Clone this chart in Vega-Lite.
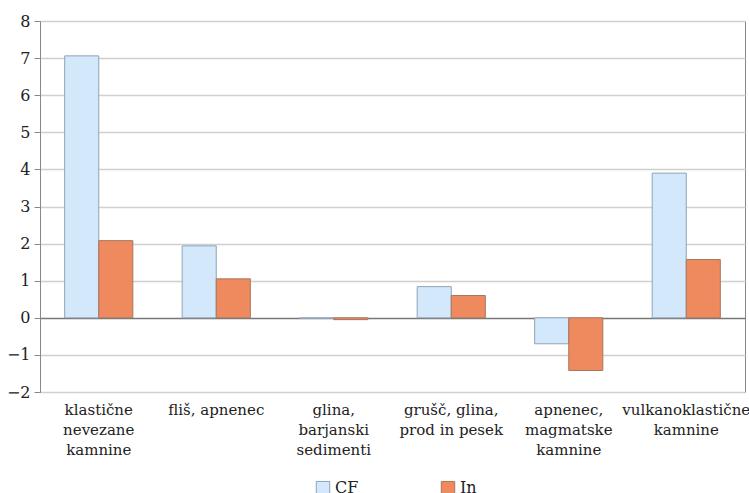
{
  "$schema": "https://vega.github.io/schema/vega-lite/v6.json",
  "autosize": "none",
  "width": 705,
  "height": 371,
  "padding": {"left": 40, "top": 21, "right": 4, "bottom": 101},
  "background": "white",
  "config": {
    "font": "DejaVu Serif",
    "view": {"stroke": "#888888", "strokeWidth": 1}
  },
  "data": {
    "values": [
      {"kategorija": "klastične nevezane kamnine", "serija": "CF", "vrednost": 7.06},
      {"kategorija": "klastične nevezane kamnine", "serija": "In", "vrednost": 2.08},
      {"kategorija": "fliš, apnenec", "serija": "CF", "vrednost": 1.94},
      {"kategorija": "fliš, apnenec", "serija": "In", "vrednost": 1.05},
      {"kategorija": "glina, barjanski sedimenti", "serija": "CF", "vrednost": -0.02},
      {"kategorija": "glina, barjanski sedimenti", "serija": "In", "vrednost": -0.05},
      {"kategorija": "grušč, glina, prod in pesek", "serija": "CF", "vrednost": 0.84},
      {"kategorija": "grušč, glina, prod in pesek", "serija": "In", "vrednost": 0.6},
      {"kategorija": "apnenec, magmatske kamnine", "serija": "CF", "vrednost": -0.7},
      {"kategorija": "apnenec, magmatske kamnine", "serija": "In", "vrednost": -1.42},
      {"kategorija": "vulkanoklastične kamnine", "serija": "CF", "vrednost": 3.9},
      {"kategorija": "vulkanoklastične kamnine", "serija": "In", "vrednost": 1.57}
    ]
  },
  "mark": {"type": "bar", "strokeWidth": 1},
  "encoding": {
    "x": {
      "field": "kategorija",
      "type": "nominal",
      "sort": null,
      "scale": {"paddingInner": 0.42, "paddingOuter": 0.21},
      "axis": {
        "title": null,
        "domain": false,
        "ticks": false,
        "labelAngle": 0,
        "labelFont": "DejaVu Serif",
        "labelFontSize": 15,
        "labelColor": "#222222",
        "labelPadding": 10,
        "labelLineHeight": 20,
        "labelBaseline": "top",
        "labelExpr": "datum.value == 'klastične nevezane kamnine' ? ['klastične','nevezane','kamnine'] : datum.value == 'glina, barjanski sedimenti' ? ['glina,','barjanski','sedimenti'] : datum.value == 'grušč, glina, prod in pesek' ? ['grušč, glina,','prod in pesek'] : datum.value == 'apnenec, magmatske kamnine' ? ['apnenec,','magmatske','kamnine'] : datum.value == 'vulkanoklastične kamnine' ? ['vulkanoklastične','kamnine'] : datum.value"
      }
    },
    "xOffset": {"field": "serija", "type": "nominal", "sort": ["CF", "In"]},
    "y": {
      "field": "vrednost",
      "type": "quantitative",
      "scale": {"domain": [-2, 8], "nice": false},
      "axis": {
        "title": null,
        "values": [-2, -1, 0, 1, 2, 3, 4, 5, 6, 7, 8],
        "labelExpr": "datum.value < 0 ? '−' + abs(datum.value) : datum.label",
        "labelFont": "DejaVu Serif",
        "labelFontSize": 16,
        "labelColor": "#222222",
        "labelPadding": 4,
        "labelOverlap": false,
        "domainColor": "#888888",
        "tickColor": "#888888",
        "tickSize": 6,
        "gridColor": {"condition": {"test": "datum.value === 0", "value": "#777777"}, "value": "#d0d0d0"},
        "gridWidth": 1.5
      }
    },
    "color": {
      "field": "serija",
      "type": "nominal",
      "sort": ["CF", "In"],
      "scale": {"domain": ["CF", "In"], "range": ["#d3e8fa", "#ee8a5e"]},
      "legend": {
        "title": null,
        "orient": "none",
        "legendX": 275,
        "legendY": 459,
        "direction": "horizontal",
        "symbolType": "square",
        "symbolSize": 180,
        "symbolStrokeColor": "#8a9aaa",
        "symbolStrokeWidth": 1,
        "labelFont": "DejaVu Serif",
        "labelFontSize": 16,
        "labelColor": "#222222",
        "columnPadding": 80
      }
    },
    "stroke": {
      "field": "serija",
      "type": "nominal",
      "scale": {"domain": ["CF", "In"], "range": ["#8fa3b8", "#a8765e"]},
      "legend": null
    }
  }
}
